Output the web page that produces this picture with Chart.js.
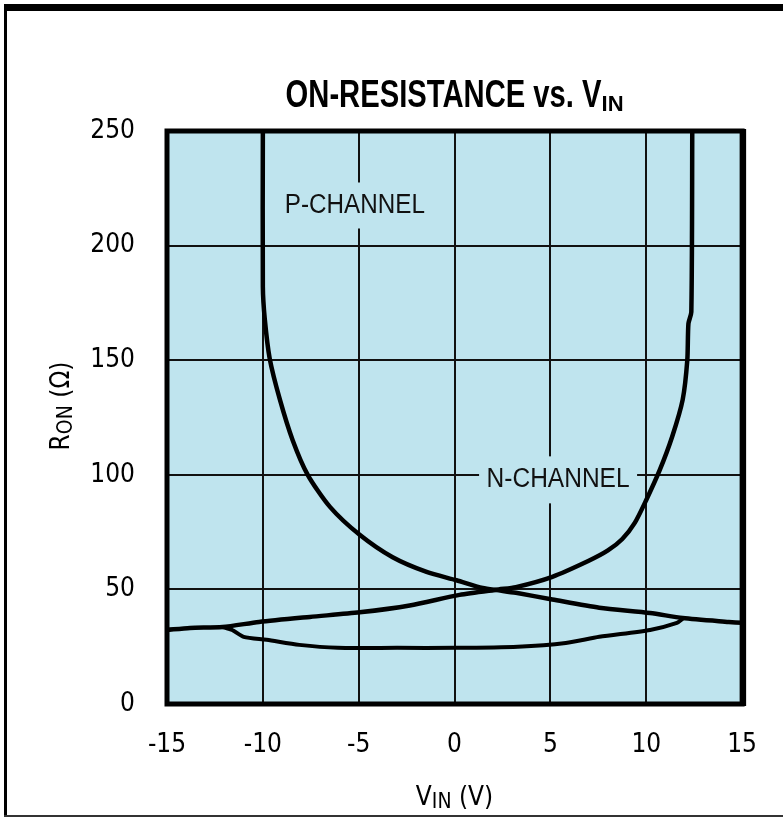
<!DOCTYPE html>
<html>
<head>
<meta charset="utf-8">
<script src="https://cdn.jsdelivr.net/npm/chart.js@4.4.1/dist/chart.umd.min.js"></script>
<style>
  html, body { margin: 0; padding: 0; background: #fff; }
  canvas { display: block; }
</style>
</head>
<body>
<canvas id="ronChart" width="783" height="821"></canvas>
<script>
// values (V_IN in volts, R_ON in ohms)
const nChannelVin = [-15, -13.8, -12.1, -10.2, -7.55, -4.95, -2.34, 0.26, 2.3, 3.2, 5.1, 7.0, 8.0, 8.75, 9.4, 10.0, 10.7, 11.35, 11.9, 12.14, 12.2, 12.35, 12.4];
const nChannelRon = [32.3, 33.2, 33.6, 35.8, 38, 40, 43, 47.6, 50, 51, 55.5, 62.5, 67, 72, 79, 89, 102, 116.6, 132.8, 150, 166, 171, 250];

const pChannelVin = [-10, -10, -9.9, -9.64, -9.11, -8.44, -7.66, -6.5, -4.95, -3.23, -1.46, 0.1, 1.46, 2.3, 3.2, 5.1, 7.55, 10.2, 11.9, 14.3, 15];
const pChannelRon = [250, 182, 168, 150.6, 132.8, 115, 100, 86, 73.8, 64, 57.6, 54, 50.6, 49.6, 48.5, 45.6, 42, 39.7, 37.5, 35.8, 35.4];

const parallelVin = [-12.1, -11.6, -11.0, -9.8, -8.1, -6.1, -3, 0, 3.3, 5.8, 7.55, 10.2, 11.6, 11.9];
const parallelRon = [33.6, 32.3, 29.3, 28, 25.8, 24.5, 24.5, 24.5, 25, 26.6, 29.3, 32.3, 35.4, 37.2];

const xTicks = [-15, -10, -5, 0, 5, 10, 15];
const yTicks = [0, 50, 100, 150, 200, 250];

const curveLabels = [
    { text: "P-CHANNEL", x: -5.2, y: 217.5, width: 140, box: [150, 46] },
    { text: "N-CHANNEL", x: 5.4, y: 97.8, width: 143, box: [158, 47] }
];

const plotBg = "#bfe4ee";
const narrow = '"Liberation Sans Narrow", "DejaVu Sans Condensed", "Liberation Sans", sans-serif';

const toPoints = (xs, ys) => xs.map((x, i) => ({ x, y: ys[i] }));

// draws a row of text runs (for subscripts), centred on cx
function drawRuns(ctx, runs, cx, baseY) {
    let total = 0;
    runs.forEach(r => {
        ctx.font = r.font;
        r.w = Math.min(ctx.measureText(r.text).width, r.maxWidth ?? Infinity);
        total += r.w;
    });
    let x = cx - total / 2;
    runs.forEach(r => {
        ctx.font = r.font;
        ctx.fillText(r.text, x, baseY + (r.dy ?? 0), r.w);
        x += r.w;
    });
}

const framePlugin = {
    id: "frame",
    beforeDraw(chart) {
        const { ctx, chartArea: a } = chart;
        ctx.save();
        ctx.fillStyle = "#fff";
        ctx.fillRect(0, 0, chart.width, chart.height);
        ctx.fillStyle = plotBg;
        ctx.fillRect(a.left, a.top, a.width, a.height);
        ctx.restore();
    },
    beforeDatasetsDraw(chart) {
        const { ctx } = chart;
        const xs = chart.scales.x, ys = chart.scales.y;
        ctx.save();
        curveLabels.forEach(l => {
            const px = xs.getPixelForValue(l.x);
            const py = ys.getPixelForValue(l.y);
            ctx.fillStyle = plotBg;
            ctx.fillRect(px - l.box[0] / 2, py - l.box[1] / 2, l.box[0], l.box[1]);
            ctx.fillStyle = "#111";
            ctx.font = '27px "Liberation Sans", sans-serif';
            ctx.textAlign = "center";
            ctx.textBaseline = "middle";
            ctx.fillText(l.text, px, py, l.width);
        });
        ctx.restore();
    },
    afterDraw(chart) {
        const { ctx, chartArea: a } = chart;
        ctx.save();
        // plot border
        ctx.strokeStyle = "#000";
        ctx.lineWidth = 5;
        ctx.strokeRect(a.left, a.top, a.width, a.height);
        ctx.fillStyle = "#000";
        ctx.fillRect(a.right, a.top - 2, 4, a.height + 4);

        // page frame
        ctx.fillRect(4, 4, chart.width - 4, 7);
        ctx.fillRect(4, 4, 3, chart.height - 8);
        ctx.fillStyle = "#333";
        ctx.fillRect(4, chart.height - 6, chart.width - 4, 2);

        ctx.fillStyle = "#000";
        ctx.textAlign = "left";
        ctx.textBaseline = "alphabetic";
        const cx = (a.left + a.right) / 2;
        drawRuns(ctx, [
            { text: "ON-RESISTANCE vs. V", font: 'bold 38px "Liberation Sans", sans-serif', maxWidth: 316 },
            { text: "IN", font: 'bold 22px "Liberation Sans", sans-serif', dy: 4, maxWidth: 22 }
        ], cx, 107);

        drawRuns(ctx, [
            { text: "V", font: "26px " + narrow },
            { text: "IN", font: "21px " + narrow, dy: 3 },
            { text: " (V)", font: "26px " + narrow }
        ], cx, 805);

        ctx.translate(69, 406);
        ctx.rotate(-Math.PI / 2);
        drawRuns(ctx, [
            { text: "R", font: "26px " + narrow },
            { text: "ON", font: "21px " + narrow, dy: 3 },
            { text: " (\u03A9)", font: "26px " + narrow }
        ], 0, 0);
        ctx.restore();
    }
};

const lineStyle = {
    borderColor: "#000",
    borderWidth: 4.5,
    pointRadius: 0,
    tension: 0.25,
    borderJoinStyle: "round",
    borderCapStyle: "round",
    fill: false
};

new Chart(document.getElementById("ronChart"), {
    type: "scatter",
    data: {
        datasets: [
            { label: "N-CHANNEL", data: toPoints(nChannelVin, nChannelRon), showLine: true, ...lineStyle },
            { label: "P-CHANNEL", data: toPoints(pChannelVin, pChannelRon), showLine: true, ...lineStyle },
            { label: "Parallel", data: toPoints(parallelVin, parallelRon), showLine: true, ...lineStyle, borderWidth: 4 }
        ]
    },
    options: {
        responsive: false,
        animation: false,
        layout: { padding: { top: 131, right: 40, left: 0, bottom: 0 } },
        plugins: {
            legend: { display: false },
            tooltip: { enabled: false }
        },
        scales: {
            x: {
                type: "linear",
                min: -15,
                max: 15,
                afterBuildTicks: s => { s.ticks = xTicks.map(v => ({ value: v })); },
                afterFit: s => { s.height = 117; },
                grid: { color: "#111", lineWidth: 2, drawTicks: false },
                border: { display: false },
                ticks: {
                    color: "#000",
                    padding: 26,
                    maxRotation: 0,
                    font: { family: narrow, size: 26 },
                    callback: v => String(v)
                }
            },
            y: {
                type: "linear",
                min: 0,
                max: 250,
                afterBuildTicks: s => { s.ticks = yTicks.map(v => ({ value: v })); },
                afterFit: s => { s.width = 167; },
                grid: { color: "#111", lineWidth: 2, drawTicks: false },
                border: { display: false },
                ticks: {
                    color: "#000",
                    padding: 32,
                    font: { family: narrow, size: 26 },
                    callback: v => String(v)
                }
            }
        }
    },
    plugins: [framePlugin]
});
</script>
</body>
</html>
